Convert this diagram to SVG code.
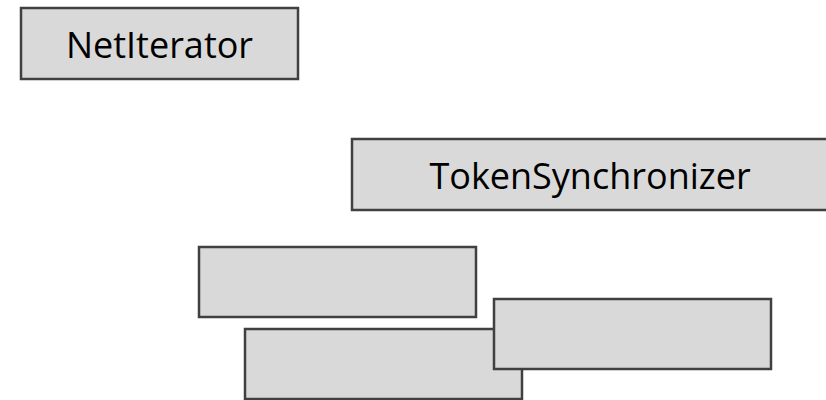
<svg xmlns="http://www.w3.org/2000/svg" width="826" height="400" viewBox="0 0 826 400">
<style>
.box{fill:#d9d9d9;stroke:#404040;stroke-width:2.5}
.lbl{font-family:"Open Sans","Liberation Sans",sans-serif;font-size:36px;fill:#000;text-anchor:middle}
</style>
<rect width="826" height="400" fill="#ffffff"/>
<g id="node-netiterator">
<rect class="box" x="21" y="8" width="277" height="71"/>
<text class="lbl" x="159.5" y="58">NetIterator</text>
</g>
<g id="node-tokensynchronizer">
<rect class="box" x="352" y="139" width="478" height="71"/>
<text class="lbl" x="590" y="189">TokenSynchronizer</text>
</g>
<g id="node-a">
<rect class="box" x="199" y="247" width="277" height="70"/>
</g>
<g id="node-b">
<rect class="box" x="245" y="329" width="277" height="70"/>
</g>
<g id="node-c">
<rect class="box" x="494" y="299" width="277" height="70"/>
</g>
<g id="connectors"/>
</svg>
